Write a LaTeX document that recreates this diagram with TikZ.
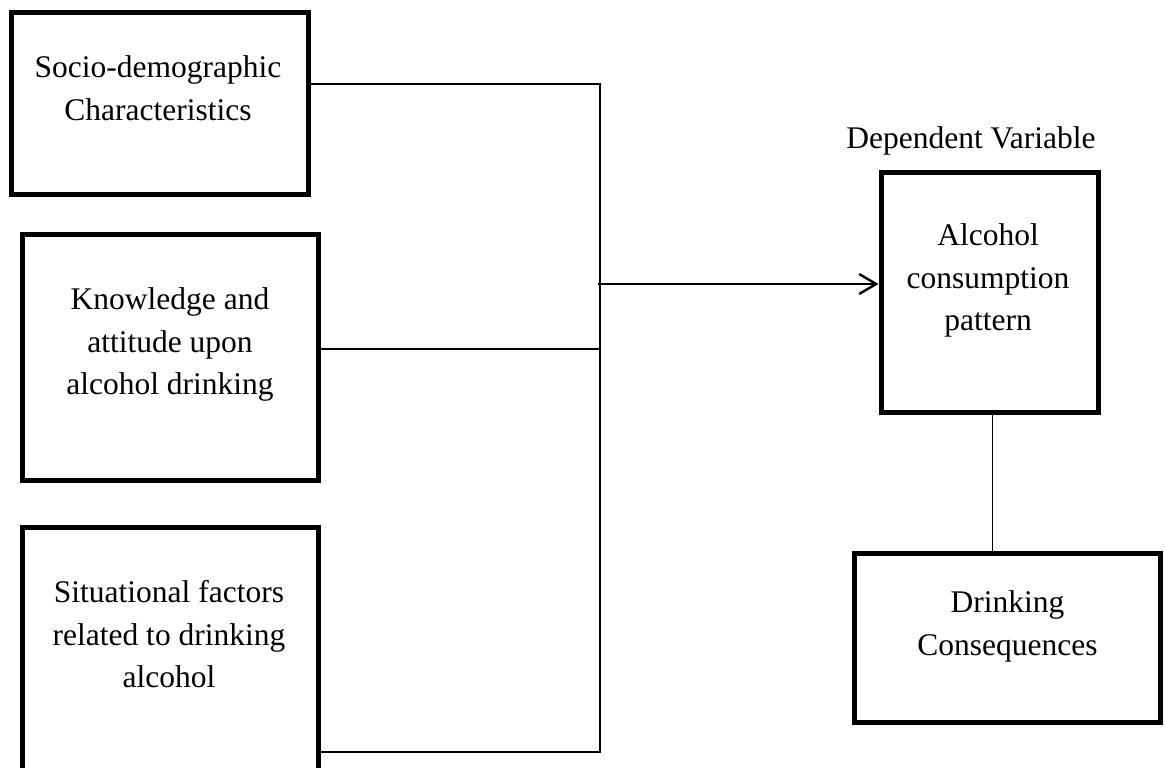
\documentclass[tikz,border=0pt]{standalone}
\usepackage{fontspec}
\setmainfont{Liberation Serif}
\usetikzlibrary{arrows.meta}
\begin{document}
\begin{tikzpicture}[x=1pt,y=-1pt,
  box/.style={draw,line width=5pt,rectangle,inner sep=0pt,minimum width=#1},
  lbl/.style={anchor=north,inner sep=0pt,align=center,font=\fontsize{31.5}{42.5}\selectfont},
  conn/.style={line width=1.6pt},
  arr/.style={line width=2.7pt,-{Straight Barb[length=17pt,width=20pt,line width=2.4pt]}}]
\useasboundingbox (0,0) rectangle (1165,768);
\clip (0,0) rectangle (1165,768);
% boxes
\node[box=297pt,minimum height=182pt] (b1) at (160,103.5) {};
\node[box=296pt,minimum height=246pt] (b2) at (170.5,357.5) {};
\node[box=296pt,minimum height=272.5pt] (b3) at (170.5,663.75) {};
\node[box=217.5pt,minimum height=240pt] (b4) at (989.75,292.5) {};
\node[box=306pt,minimum height=169pt] (b5) at (1007.5,638) {};
% texts
\node[lbl] (t1) at (158,55.5) {Socio-demographic\\Characteristics};
\node[lbl] (t2) at (170,287.5) {Knowledge and\\attitude upon\\alcohol drinking};
\node[lbl] (t3) at (169,580.5) {Situational factors\\related to drinking\\alcohol};
\node[lbl] (t4) at (988,223.5) {Alcohol\\consumption\\pattern};
\node[lbl] (t5) at (1007.5,590.5) {Drinking\\Consequences};
\node[lbl] (dv) at (971,126.5) {Dependent Variable};
% connectors
\coordinate (j1) at (600,84);
\coordinate (j2) at (600,349);
\coordinate (j3) at (600,752);
\coordinate (ja) at (598,284);
\coordinate (m) at (992.5,0);
\draw[conn] (j1 -| b1.east) -- (j1) -- (j3) -- (j3 -| b3.east);
\draw[conn] (j2 -| b2.east) -- (j2);
\draw[arr] (ja) -- (ja -| b4.west);
\draw[conn] (b4.south -| m) -- (b5.north -| m);
\end{tikzpicture}
\end{document}
